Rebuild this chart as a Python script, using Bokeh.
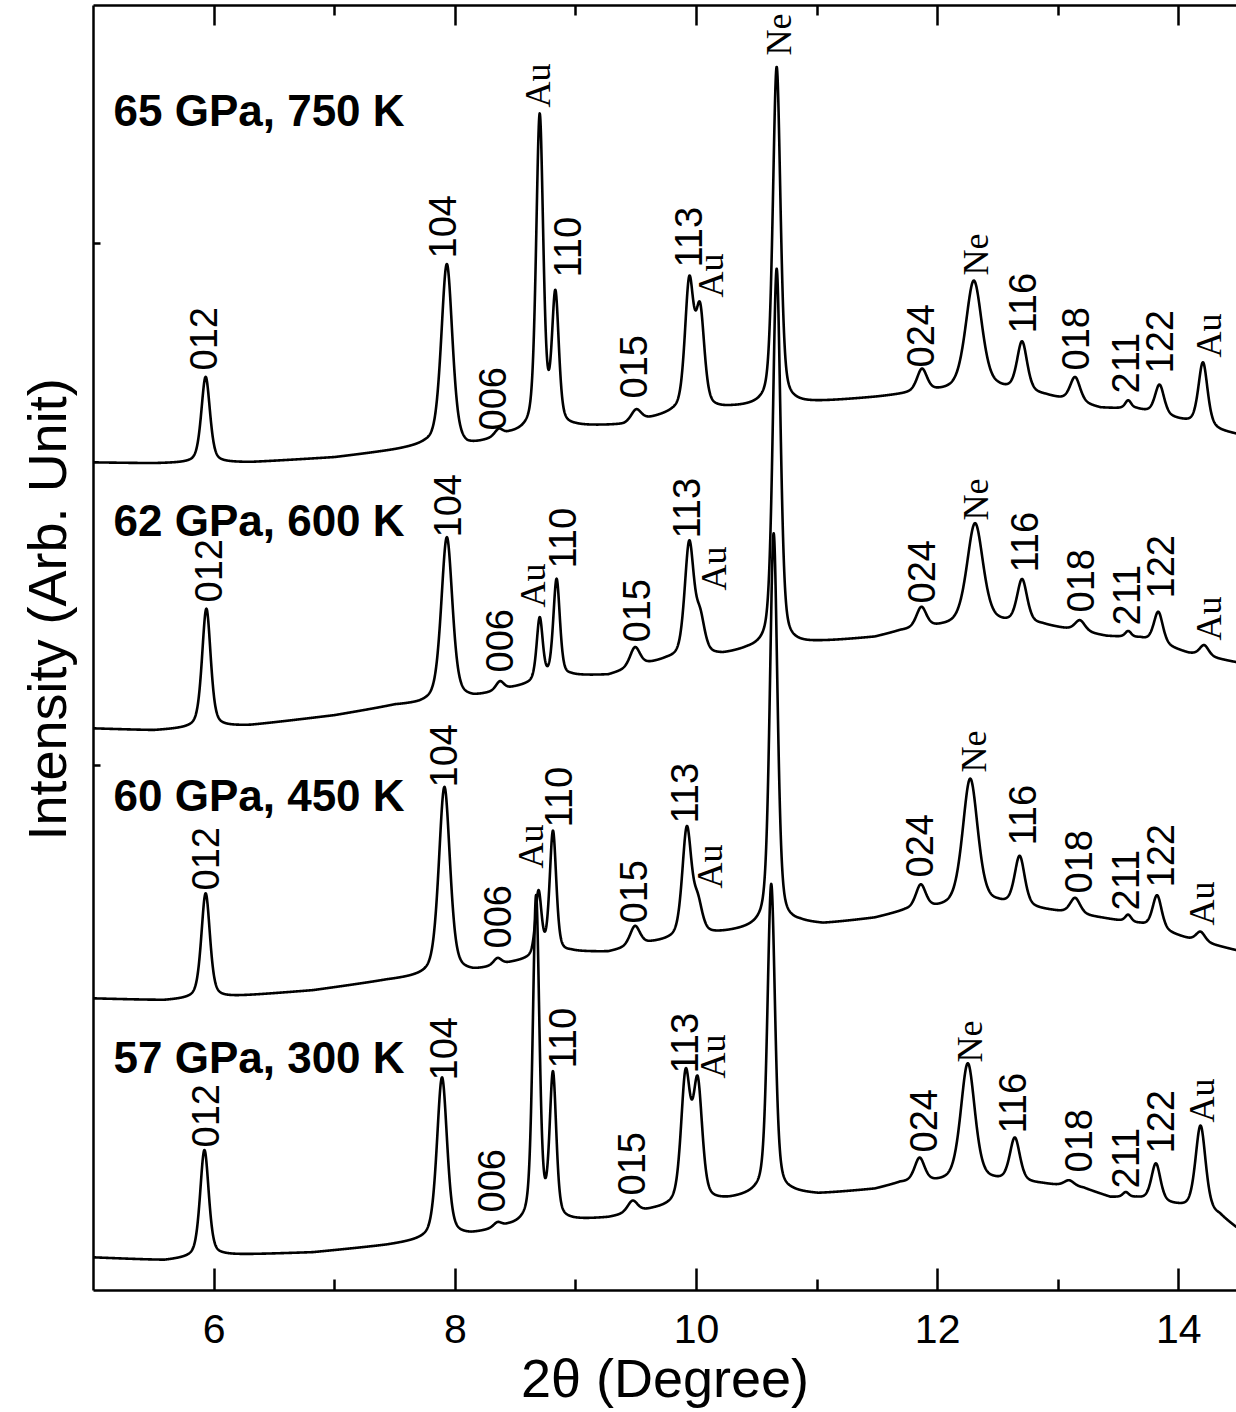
import numpy as np
from bokeh.plotting import figure
from bokeh.models import (LinearAxis, FixedTicker, ColumnDataSource, Title,
                          CustomLabelingPolicy)
from bokeh.core.properties import value
from bokeh.embed import file_html
from bokeh.resources import INLINE

# ---------------------------------------------------------------- data
# 2-theta axis (degree)
TTH_START, TTH_END = 5.0, 14.478
tick_major = [6, 8, 10, 12, 14]
tick_minor = [7, 9, 11, 13]
y_ticks = [525, 1047]

conditions = ["65 GPa, 750 K", "62 GPa, 600 K", "60 GPa, 450 K", "57 GPa, 300 K"]
offsets = [828, 562, 292, 33]          # vertical stacking of the patterns (a.u.)

# --- 65 GPa, 750 K
p65_bg_tth = [5.0, 5.5, 6.3, 7.0, 7.5, 7.75, 8.1, 8.45, 9.0, 9.4, 9.65, 9.8, 10.3, 10.9,
              11.5, 11.75, 12.0, 12.5, 12.9, 13.35, 13.65, 14.04, 14.35, 14.48]
p65_bg_int = [0, -1, 0, 5, 12, 16, 14, 27, 35, 37, 44, 48, 54, 59,
              65, 68, 70, 72, 66, 54, 53, 41, 31, 28]
p65_pk_tth = [5.93, 7.93, 8.36, 8.70, 8.83, 9.50, 9.94, 10.03, 10.665, 11.87, 12.30, 12.70, 13.14, 13.58, 13.84, 14.20]
p65_pk_int = [86, 183, 7, 314, 130, 12, 126, 95, 338, 23, 110, 50, 25, 8, 30, 64]
p65_pk_wid = [0.085, 0.11, 0.08, 0.07, 0.068, 0.10, 0.085, 0.085, 0.075, 0.10, 0.16, 0.10, 0.10, 0.06, 0.09, 0.09]
p65_lb_txt = ["012", "104", "006", "Au", "110", "015", "113", "Au", "Ne", "024", "Ne", "116", "018", "211", "122", "Au"]
p65_lb_tth = [5.913, 7.895, 8.309, 8.682, 8.931, 9.478, 9.934, 10.117, 10.681, 11.858, 12.314, 12.704, 13.143, 13.558, 13.840, 14.246]
p65_lb_int = [92, 204, 32, 355, 185, 64, 195, 165, 407, 95, 187, 129, 92, 69, 89, 105]

# --- 62 GPa, 600 K
p62_bg_tth = [5.0, 5.5, 6.3, 7.0, 7.5, 7.7, 8.15, 8.48, 8.96, 9.27, 9.6, 9.75, 10.22, 10.42, 10.86,
              11.01, 11.48, 11.69, 12.04, 12.51, 12.87, 13.40, 13.68, 14.08, 14.48]
p62_bg_int = [0, -2, 3, 13, 23, 24, 30, 40, 52, 53, 64, 68, 73, 78, 84,
              86, 91, 97, 101, 104, 103, 92, 90, 75, 66]
p62_pk_tth = [5.936, 7.93, 8.37, 8.70, 8.84, 9.49, 9.94, 10.03, 10.665, 11.865, 12.31, 12.70, 13.18, 13.58, 13.83, 14.21]
p62_pk_int = [119, 164, 9, 63, 99, 20, 113, 35, 378, 21, 102, 44, 11, 6, 32, 11]
p62_pk_wid = [0.085, 0.11, 0.08, 0.06, 0.065, 0.10, 0.09, 0.09, 0.075, 0.10, 0.16, 0.10, 0.10, 0.06, 0.09, 0.09]
p62_lb_txt = ["012", "104", "006", "Au", "110", "015", "113", "Au", "024", "Ne", "116", "018", "211", "122", "Au"]
p62_lb_tth = [5.951, 7.936, 8.367, 8.641, 8.887, 9.501, 9.914, 10.146, 11.866, 12.314, 12.718, 13.182, 13.570, 13.848, 14.252]
p62_lb_int = [126, 191, 56, 121, 160, 86, 190, 138, 125, 208, 156, 116, 103, 130, 88]

# --- 60 GPa, 450 K
p60_bg_tth = [5.0, 5.59, 6.08, 6.82, 7.43, 7.70, 8.15, 8.47, 8.96, 9.27, 9.63, 10.22, 10.52, 10.86,
              11.05, 11.48, 11.73, 11.99, 12.50, 12.95, 13.37, 13.68, 14.09, 14.48]
p60_bg_int = [0, -2, 1, 8, 18, 21, 26, 35, 46, 46, 55, 65, 70, 75,
              74, 80, 87, 89, 93, 87, 80, 74, 59, 48]
p60_pk_tth = [5.93, 7.91, 8.35, 8.69, 8.81, 9.49, 9.92, 10.01, 10.64, 11.86, 12.27, 12.68, 13.14, 13.58, 13.82, 14.18]
p60_pk_int = [105, 188, 7, 64, 123, 20, 108, 30, 393, 24, 128, 50, 16, 7, 34, 10]
p60_pk_wid = [0.085, 0.11, 0.08, 0.06, 0.065, 0.10, 0.09, 0.09, 0.075, 0.10, 0.15, 0.10, 0.10, 0.06, 0.09, 0.09]
p60_lb_txt = ["012", "104", "006", "Au", "110", "015", "113", "Au", "024", "Ne", "116", "018", "211", "122", "Au"]
p60_lb_tth = [5.927, 7.903, 8.351, 8.625, 8.857, 9.479, 9.898, 10.115, 11.850, 12.298, 12.702, 13.168, 13.555, 13.848, 14.188]
p60_lb_int = [108, 211, 50, 130, 171, 75, 175, 110, 121, 226, 153, 105, 88, 111, 73]

# --- 57 GPa, 300 K
p57_bg_tth = [5.0, 5.59, 6.08, 6.82, 7.43, 7.70, 8.13, 8.44, 8.96, 9.27, 9.64, 10.27, 10.49, 10.80,
              11.01, 11.48, 11.69, 11.97, 12.47, 12.87, 13.21, 13.43, 13.65, 13.99, 14.34, 14.48]
p57_bg_int = [0, -3, 2, 5, 12, 16, 22, 30, 36, 39, 47, 57, 62, 64,
              63, 68, 74, 74, 75, 73, 69, 60, 59, 51, 41, 29]
p57_pk_tth = [5.92, 7.89, 8.35, 8.67, 8.81, 9.47, 9.91, 10.01, 10.62, 11.85, 12.25, 12.64, 13.09, 13.56, 13.81, 14.18]
p57_pk_int = [107, 161, 5, 326, 144, 12, 126, 116, 310, 24, 119, 44, 6, 5, 38, 86]
p57_pk_wid = [0.085, 0.10, 0.08, 0.065, 0.065, 0.10, 0.09, 0.09, 0.075, 0.10, 0.14, 0.10, 0.10, 0.06, 0.09, 0.10]
p57_lb_txt = ["012", "104", "006", "110", "015", "113", "Au", "024", "Ne", "116", "018", "211", "122", "Au"]
p57_lb_tth = [5.927, 7.903, 8.301, 8.887, 9.462, 9.901, 10.140, 11.882, 12.269, 12.619, 13.168, 13.555, 13.848, 14.196]
p57_lb_int = [110, 177, 45, 189, 62, 184, 179, 105, 195, 124, 85, 69, 104, 135]

patterns = [
    (p65_bg_tth, p65_bg_int, p65_pk_tth, p65_pk_int, p65_pk_wid, p65_lb_txt, p65_lb_tth, p65_lb_int),
    (p62_bg_tth, p62_bg_int, p62_pk_tth, p62_pk_int, p62_pk_wid, p62_lb_txt, p62_lb_tth, p62_lb_int),
    (p60_bg_tth, p60_bg_int, p60_pk_tth, p60_pk_int, p60_pk_wid, p60_lb_txt, p60_lb_tth, p60_lb_int),
    (p57_bg_tth, p57_bg_int, p57_pk_tth, p57_pk_int, p57_pk_wid, p57_lb_txt, p57_lb_tth, p57_lb_int),
]

# ---------------------------------------------------------------- profile
ETA = 0.45          # Lorentzian fraction of the pseudo-Voigt peak shape


def pattern_curve(tth, bg_tth, bg_int, pk_tth, pk_int, pk_wid):
    y = np.interp(tth, bg_tth, bg_int).astype(float)
    for x0, h, w in zip(pk_tth, pk_int, pk_wid):
        u = (tth - x0) / w
        lor = 1.0 / (1.0 + 4.0 * u * u)
        gau = np.exp(-4.0 * np.log(2.0) * u * u)
        y += h * (ETA * lor + (1.0 - ETA) * gau)
    return y


tth = np.arange(TTH_START, TTH_END + 0.001, 0.002)

# ---------------------------------------------------------------- figure
SANS = "Liberation Sans"
SERIF = "Liberation Serif"

p = figure(width=1236, height=1412, x_range=(TTH_START, TTH_END), y_range=(0, 1285),
           x_axis_type=None, y_axis_type=None, output_backend="svg", toolbar_location=None,
           min_border_left=93, min_border_right=0, min_border_top=5, min_border_bottom=122)
p.outline_line_color = None
p.grid.visible = False
p.background_fill_color = "white"
p.border_fill_color = "white"

for offset, (bg_t, bg_i, pk_t, pk_i, pk_w, lb_txt, lb_t, lb_i) in zip(offsets, patterns):
    curve = pattern_curve(tth, bg_t, bg_i, pk_t, pk_i, pk_w) + offset
    p.line(tth, curve, line_color="black", line_width=2.6, line_join="round")

    hkl = [k for k, s in enumerate(lb_txt) if s not in ("Au", "Ne")]
    elem = [k for k, s in enumerate(lb_txt) if s in ("Au", "Ne")]
    for idx, font, size in ((hkl, SANS, "38px"), (elem, SERIF, "36px")):
        src = ColumnDataSource(dict(x=[lb_t[k] for k in idx],
                                    y=[lb_i[k] + offset for k in idx],
                                    t=[lb_txt[k] for k in idx]))
        p.text("x", "y", "t", source=src, angle=np.pi / 2, text_align="left",
               text_baseline="middle", text_font=value(font), text_font_size=size,
               text_color="black")

# condition captions
cond_src = ColumnDataSource(dict(x=[5.166] * 4, y=[1180, 770, 495, 233], t=conditions))
p.text("x", "y", "t", source=cond_src, text_align="left", text_baseline="alphabetic",
       text_font=value(SANS), text_font_style="bold", text_font_size="44px", text_color="black")

# axes: ticks point inward on every side, numbers only on the bottom
hide_labels = CustomLabelingPolicy(code="""
    for (const i of indices) { indices.unset(i) }
    return indices
""")


def style_axis(ax, tick_in, minor_in, labels):
    ax.axis_line_width = 2.5
    ax.axis_line_color = "black"
    ax.major_tick_line_width = 2.5
    ax.minor_tick_line_width = 2.5
    ax.major_tick_line_color = "black"
    ax.minor_tick_line_color = "black"
    ax.major_tick_in = tick_in
    ax.major_tick_out = 0
    ax.minor_tick_in = minor_in
    ax.minor_tick_out = 0
    if labels:
        ax.major_label_text_font = SANS
        ax.major_label_text_font_size = "41px"
        ax.major_label_text_color = "black"
        ax.major_label_text_line_height = 1.0
        ax.major_label_standoff = 24
    else:
        ax.major_label_policy = hide_labels
        ax.major_label_text_font_size = "0px"
        ax.major_label_standoff = 0


bottom = LinearAxis(ticker=FixedTicker(ticks=tick_major, minor_ticks=tick_minor))
style_axis(bottom, 22, 11, True)
bottom.axis_label = "2θ (Degree)"
bottom.axis_label_text_font = SANS
bottom.axis_label_text_font_size = "54px"
bottom.axis_label_text_font_style = "normal"
bottom.axis_label_text_color = "black"
bottom.axis_label_text_line_height = 1.0
bottom.axis_label_standoff = 2
p.add_layout(bottom, "below")

top = LinearAxis(ticker=FixedTicker(ticks=tick_major, minor_ticks=tick_minor))
style_axis(top, 20, 10, False)
p.add_layout(top, "above")

left = LinearAxis(ticker=FixedTicker(ticks=y_ticks, minor_ticks=[]))
style_axis(left, 7, 0, False)
p.add_layout(left, "left")

y_title = Title(text="Intensity (Arb. Unit)", align="left", offset=450, standoff=30,
                vertical_align="top", text_font=SANS, text_font_size="54px",
                text_font_style="normal", text_color="black")
p.add_layout(y_title, "left")

open("out.html", "w").write(file_html(p, INLINE))
